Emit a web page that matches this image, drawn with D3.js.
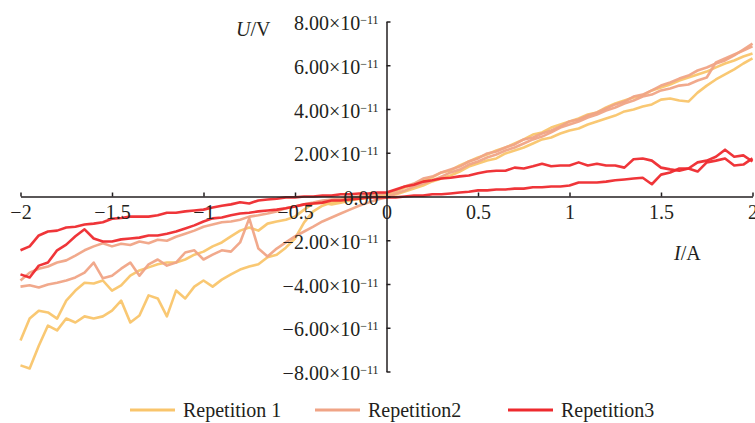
<!doctype html>
<html lang="en">
<head>
<meta charset="UTF-8">
<title>U-I repetitions</title>
<script src="https://d3js.org/d3.v7.min.js"></script>
<style>
  body { margin: 0; background: #fff; }
  svg text { font-family: "Liberation Serif", "Times New Roman", serif; fill: #231f20; }
</style>
</head>
<body>
<div id="chart"></div>
<script>
// current I (A), shared by every sweep
const current = [-2, -1.95, -1.9, -1.85, -1.8, -1.75, -1.7, -1.65, -1.6, -1.55,
  -1.5, -1.45, -1.4, -1.35, -1.3, -1.25, -1.2, -1.15, -1.1, -1.05,
  -1, -0.95, -0.9, -0.85, -0.8, -0.75, -0.7, -0.65, -0.6, -0.55,
  -0.5, -0.45, -0.4, -0.35, -0.3, -0.25, -0.2, -0.15, -0.1, -0.05,
  0,
  0.05, 0.1, 0.15, 0.2, 0.25, 0.3, 0.35, 0.4, 0.45, 0.5,
  0.55, 0.6, 0.65, 0.7, 0.75, 0.8, 0.85, 0.9, 0.95, 1,
  1.05, 1.1, 1.15, 1.2, 1.25, 1.3, 1.35, 1.4, 1.45, 1.5,
  1.55, 1.6, 1.65, 1.7, 1.75, 1.8, 1.85, 1.9, 1.95, 2]

// voltage U in units of 1e-11 V, two sweeps per repetition
const rep1A = [-6.58, -5.58, -5.22, -5.30, -5.58, -4.76, -4.30, -3.94, -3.98, -3.84,
  -4.30, -4.06, -3.62, -3.38, -3.24, -3.10, -3.02, -3.02, -2.88, -2.66,
  -2.52, -2.28, -2.10, -1.82, -1.56, -1.42, -1.56, -1.24, -1.14, -1.06,
  -0.92, -0.60, -0.32, -0.28, -0.36, -0.28, -0.18, -0.10, -0.04, 0,
  0.04,
  0.23, 0.41, 0.55, 0.73, 0.87, 1.10, 1.19, 1.42, 1.60, 1.78,
  1.92, 2.10, 2.24, 2.42, 2.61, 2.83, 2.93, 3.15, 3.29, 3.43,
  3.57, 3.75, 3.84, 4.07, 4.25, 4.39, 4.53, 4.62, 4.85, 4.98,
  5.12, 5.30, 5.44, 5.58, 5.71, 5.90, 6.08, 6.22, 6.40, 6.54]
const rep1B = [-7.72, -7.86, -6.82, -5.90, -6.12, -5.58, -5.76, -5.48, -5.58, -5.48,
  -5.22, -4.76, -5.76, -5.44, -4.52, -4.66, -5.48, -4.30, -4.66, -4.12,
  -3.84, -4.12, -3.80, -3.56, -3.34, -3.20, -3.10, -2.78, -2.66, -2.34,
  -1.92, -1.18, -0.68, -0.42, -0.28, -0.18, -0.14, -0.10, -0.04, 0,
  0,
  0.09, 0.23, 0.37, 0.50, 0.69, 0.82, 0.96, 1.14, 1.37, 1.51,
  1.65, 1.74, 1.97, 2.10, 2.24, 2.42, 2.61, 2.70, 2.88, 3.02,
  3.11, 3.29, 3.43, 3.57, 3.70, 3.89, 3.98, 4.11, 4.21, 4.43,
  4.48, 4.39, 4.34, 4.75, 5.07, 5.35, 5.58, 5.81, 6.08, 6.31]
const rep2A = [-3.84, -3.48, -3.30, -3.20, -3.02, -2.92, -2.70, -2.46, -2.28, -2.14,
  -2.28, -2.16, -2.22, -2.06, -2.14, -1.98, -2.02, -1.84, -1.70, -1.56,
  -1.38, -1.28, -1.18, -1.14, -1.06, -0.92, -0.86, -0.78, -0.68, -0.54,
  -0.46, -0.36, -0.28, -0.18, -0.14, -0.10, -0.04, 0, 0.04, 0.10,
  0.14,
  0.27, 0.46, 0.59, 0.82, 0.91, 1.10, 1.23, 1.37, 1.60, 1.74,
  1.97, 2.06, 2.24, 2.38, 2.61, 2.70, 2.88, 3.02, 3.20, 3.43,
  3.52, 3.70, 3.84, 4.02, 4.21, 4.34, 4.57, 4.66, 4.85, 5.07,
  5.21, 5.39, 5.53, 5.76, 5.90, 6.08, 6.22, 6.45, 6.72, 6.99]
const rep2B = [-4.12, -4.06, -4.16, -4.02, -3.94, -3.84, -3.70, -3.48, -3.02, -3.74,
  -3.62, -3.30, -3.02, -3.62, -3.10, -2.88, -3.16, -3.02, -2.56, -2.46,
  -2.88, -2.66, -2.46, -2.52, -2.10, -1.00, -2.38, -2.74, -2.38, -2.10,
  -1.82, -1.60, -1.38, -1.14, -0.96, -0.78, -0.60, -0.42, -0.28, -0.14,
  -0.04,
  0.14, 0.27, 0.46, 0.59, 0.73, 0.91, 1.10, 1.23, 1.46, 1.60,
  1.78, 1.92, 2.10, 2.24, 2.42, 2.61, 2.74, 2.93, 3.15, 3.29,
  3.43, 3.61, 3.75, 3.93, 4.07, 4.25, 4.39, 4.57, 4.66, 4.85,
  4.94, 5.07, 5.12, 5.30, 5.44, 6.13, 6.31, 6.49, 6.67, 6.86]
const rep3A = [-2.46, -2.28, -1.78, -1.60, -1.56, -1.42, -1.38, -1.28, -1.24, -1.18,
  -1.02, -0.98, -0.92, -0.92, -0.92, -0.86, -0.74, -0.74, -0.68, -0.64,
  -0.60, -0.50, -0.42, -0.36, -0.26, -0.32, -0.18, -0.14, -0.10, -0.04,
  -0.04, 0, 0, 0.04, 0.04, 0.10, 0.10, 0.14, 0.14, 0.18,
  0.18,
  0.32, 0.46, 0.54, 0.68, 0.74, 0.82, 0.86, 0.92, 0.96, 1.06,
  1.14, 1.18, 1.18, 1.32, 1.28, 1.38, 1.50, 1.38, 1.42, 1.42,
  1.56, 1.42, 1.50, 1.42, 1.42, 1.32, 1.70, 1.74, 1.64, 1.32,
  1.24, 1.18, 1.28, 1.56, 1.64, 1.82, 2.14, 1.82, 1.88, 1.60]
const rep3B = [-3.56, -3.70, -3.16, -3.02, -2.46, -2.20, -1.82, -1.50, -1.92, -2.06,
  -2.06, -1.96, -1.92, -1.88, -1.78, -1.78, -1.70, -1.60, -1.46, -1.32,
  -1.14, -1.00, -0.96, -0.86, -0.78, -0.74, -0.68, -0.64, -0.60, -0.54,
  -0.46, -0.36, -0.32, -0.28, -0.18, -0.18, -0.14, -0.10, -0.04, -0.04,
  -0.04,
  -0.04, 0, 0.04, 0.04, 0.10, 0.10, 0.14, 0.18, 0.22, 0.28,
  0.28, 0.32, 0.32, 0.36, 0.36, 0.42, 0.42, 0.46, 0.46, 0.50,
  0.64, 0.64, 0.64, 0.68, 0.74, 0.78, 0.82, 0.86, 0.56, 1.00,
  1.10, 1.28, 1.28, 1.14, 1.56, 1.64, 1.74, 1.42, 1.46, 1.74]

const seriesNames = ['Repetition 1', 'Repetition2', 'Repetition3']
const seriesColors = ['#f9c56c', '#f0a486', '#ee2a2e']
const sweeps = [[rep1A, rep1B], [rep2A, rep2B], [rep3A, rep3B]]

const xTicks = [-2, -1.5, -1, -0.5, 0, 0.5, 1, 1.5, 2]
const yTicks = [-8e-11, -6e-11, -4e-11, -2e-11, 0, 2e-11, 4e-11, 6e-11, 8e-11]

const width = 755, height = 423

const svg = d3.select('#chart').append('svg')
    .attr('width', width)
    .attr('height', height)

const x = d3.scaleLinear().domain([-2, 2]).range([20.5, 752.5])
const y = d3.scaleLinear().domain([-8e-11, 8e-11]).range([371.5, 21.5])

// series lines
const line = d3.line()
    .x((d, i) => x(current[i]))
    .y(d => y(d * 1e-11))

sweeps.forEach(function(pair, k) {
    pair.forEach(function(vals) {
        svg.append('path')
            .datum(vals)
            .attr('d', line)
            .attr('fill', 'none')
            .attr('stroke', seriesColors[k])
            .attr('stroke-width', 2.6)
            .attr('stroke-linejoin', 'round')
            .attr('stroke-opacity', 0.95)
    })
})

const minus = s => s.replace('-', '\u2212')

// x axis through U = 0, ticks point up
const xAxis = svg.append('g')
    .attr('transform', 'translate(0,' + y(0) + ')')
    .call(d3.axisBottom(x)
        .tickValues(xTicks)
        .tickSizeInner(-4)
        .tickSizeOuter(0)
        .tickPadding(8)
        .tickFormat(d => minus(String(d))))

// y axis through I = 0, ticks point right
const yAxis = svg.append('g')
    .attr('transform', 'translate(' + x(0) + ',0)')
    .call(d3.axisLeft(y)
        .tickValues(yTicks)
        .tickSizeInner(-4)
        .tickSizeOuter(0)
        .tickPadding(8)
        .tickFormat(() => ''))

yAxis.selectAll('.tick text').each(function(d) {
    const t = d3.select(this).attr('dy', '0.4em')
    if (d === 0) { t.text('0.00'); return }
    t.append('tspan').text(minus((d / 1e-11).toFixed(2)) + '\u00d710')
    t.append('tspan').attr('dy', '-0.5em').attr('font-size', 12).text('\u221211')
})

svg.selectAll('.domain, .tick line').attr('stroke', '#231f20').attr('stroke-width', 1.5)
svg.selectAll('.tick text').attr('font-size', 20).attr('fill', '#231f20')
    .style('font-family', '"Liberation Serif", serif')

// axis titles
const uLabel = svg.append('text').attr('x', 236).attr('y', 36).attr('font-size', 20)
uLabel.append('tspan').attr('font-style', 'italic').text('U')
uLabel.append('tspan').text('/V')

const iLabel = svg.append('text').attr('x', 674).attr('y', 260).attr('font-size', 20)
iLabel.append('tspan').attr('font-style', 'italic').text('I')
iLabel.append('tspan').text('/A')

// legend
const legendX = [130, 315, 508]
const legend = svg.append('g')
seriesNames.forEach(function(name, k) {
    legend.append('line')
        .attr('x1', legendX[k]).attr('x2', legendX[k] + 45)
        .attr('y1', 410).attr('y2', 410)
        .attr('stroke', seriesColors[k])
        .attr('stroke-width', 3)
    legend.append('text')
        .attr('x', legendX[k] + 53)
        .attr('y', 410)
        .attr('dy', '0.35em')
        .attr('font-size', 20)
        .text(name)
})
</script>
</body>
</html>
